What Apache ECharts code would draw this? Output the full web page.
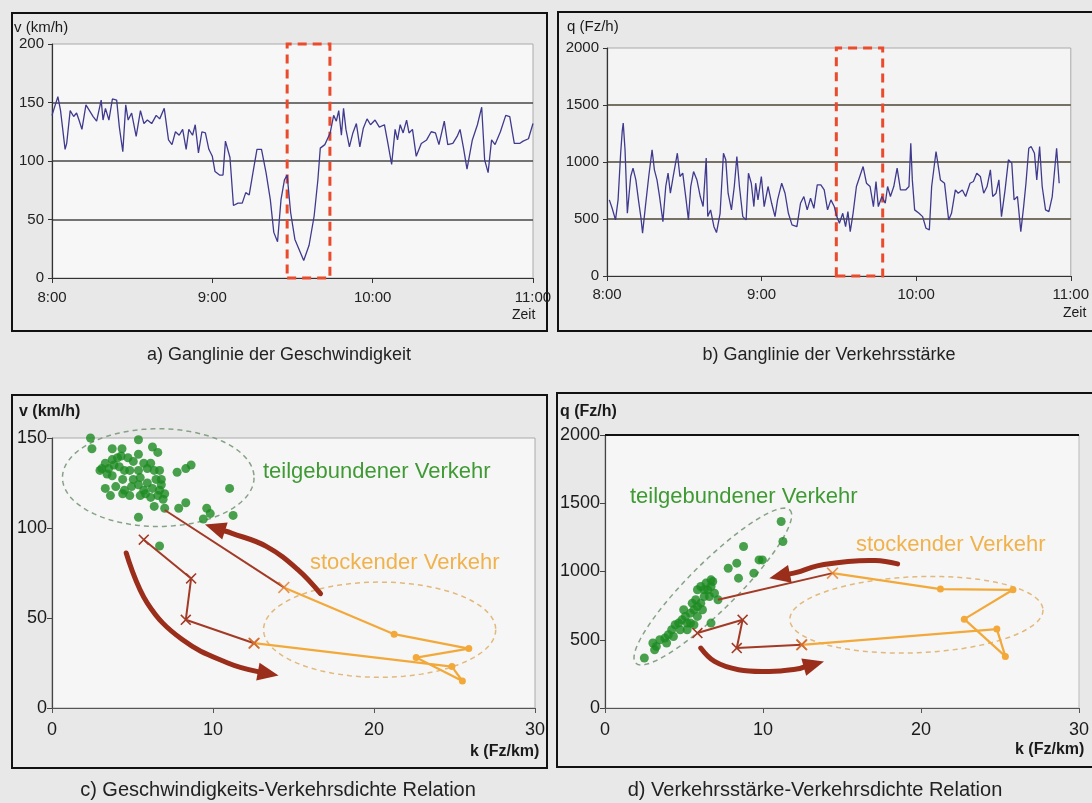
<!DOCTYPE html>
<html>
<head>
<meta charset="utf-8">
<script src="https://cdn.jsdelivr.net/npm/echarts@6/dist/echarts.min.js"></script>
<style>
html,body{margin:0;padding:0;background:#e8e8e8;}
#chart{width:1092px;height:803px;}
</style>
</head>
<body>
<div id="chart"></div>
<script>
// ---- time axis (minutes after 8:00) ----
const timeTicks = ['8:00', '9:00', '10:00', '11:00'];

// a) speed over time [minute, km/h]
const speedSeries = [
  [0,139],[2.2,155],[3.2,143],[4.9,110],[5.5,115],[6.8,143],[8.1,138],[9.2,141],[10.1,135],[11.2,127],
  [12.7,148],[15.4,138],[16.7,134],[18.4,152],[19.1,135],[20.0,145],[21.3,135],[22.6,153],[24.2,152],[25.2,129],
  [26.5,108],[27.6,148],[28.5,135],[29.8,141],[31.5,121],[33.1,143],[34.4,132],[35.7,135],[37.3,132],[39.0,139],
  [40.3,136],[42.0,145],[43.6,118],[44.9,114],[46.2,125],[47.6,122],[48.9,127],[50.2,110],[51.2,127],[52.6,122],
  [53.6,131],[54.8,107],[56.1,125],[57.4,124],[58.7,110],[60.0,104],[61.0,91],[62.7,88],[64.0,88],[64.9,117],
  [66.6,103],[67.9,62],[69.6,64],[71.2,64],[72.5,73],[73.8,71],[75.2,90],[76.7,110],[78.4,110],[80.1,90],
  [81.7,67],[83.0,39],[84.4,31],[85.7,67],[87.0,84],[88.0,88],[89.3,56],[90.9,33],[94.2,15],[96.2,28],
  [98.1,53],[99.5,84],[100.4,111],[102.1,114],[104.1,124],[105.4,139],[106.4,134],[107.3,143],[108.3,122],[109.1,145],
  [110.0,127],[111.3,112],[112.6,124],[113.9,132],[115.2,112],[116.5,128],[117.9,136],[119.2,131],[120.9,135],[122.5,129],
  [124.4,131],[125.7,115],[127.1,97],[128.4,127],[129.3,118],[130.3,131],[131.4,124],[132.7,135],[133.6,124],[134.9,127],
  [136.3,104],[138.2,115],[140.2,118],[141.9,125],[143.5,124],[144.8,114],[146.8,134],[148.1,114],[150.0,115],[151.6,121],
  [152.7,127],[154.0,111],[155.3,93],[157.3,118],[159.2,131],[160.8,146],[161.9,101],[163.2,90],[164.5,118],[165.8,114],
  [167.8,125],[169.8,139],[171.3,138],[173.0,115],[175.0,115],[176.3,117],[178.3,119],[180.0,132]
];

// b) traffic flow over time [minute, Fz/h]
const flowSeries = [
  [0.9,668],[2.0,594],[3.3,492],[4.3,668],[5.3,1077],[5.9,1268],[6.3,1341],[7.0,1107],[7.9,550],[9.2,873],
  [10.1,946],[11.2,843],[12.2,668],[13.2,507],[13.8,375],[14.9,609],[16.2,873],[17.5,1107],[18.4,931],[19.4,843],
  [20.4,697],[21.7,477],[22.8,785],[23.7,902],[24.6,726],[25.7,873],[27.3,1077],[28.3,873],[29.4,902],[30.7,668],
  [31.6,492],[32.5,785],[33.6,916],[34.9,843],[36.2,697],[37.3,609],[38.5,1034],[39.1,521],[40.2,580],[41.5,433],
  [42.5,381],[43.9,550],[45.2,1077],[46.1,1019],[47.0,726],[48.3,580],[49.4,785],[50.4,1048],[51.4,785],[52.7,521],
  [54.0,492],[54.9,902],[56.0,814],[57.0,609],[57.7,814],[58.6,668],[59.9,873],[61.0,609],[62.5,785],[63.9,638],
  [65.2,521],[66.2,668],[67.8,814],[69.1,726],[70.4,550],[71.8,448],[73.7,433],[75.1,638],[76.4,697],[77.7,580],
  [79.0,682],[80.3,594],[81.6,800],[83.0,800],[84.3,755],[85.6,580],[86.9,668],[88.2,609],[89.2,521],[90.2,463],
  [91.5,550],[92.6,433],[93.5,565],[94.4,389],[95.5,550],[96.8,785],[98.1,873],[99.4,960],[100.7,814],[102.1,785],
  [103.4,609],[104.4,829],[105.3,609],[106.7,697],[108.0,638],[108.9,785],[110.0,697],[111.3,785],[112.6,946],[113.9,755],
  [115.9,755],[117.2,785],[117.9,1165],[118.5,843],[119.4,580],[121.1,550],[122.5,521],[123.8,419],[125.1,404],[126.0,785],
  [127.7,1092],[128.4,990],[129.4,843],[131.0,814],[132.6,492],[133.7,550],[135.2,755],[136.3,726],[137.9,755],[139.2,697],
  [140.9,814],[142.2,829],[143.5,902],[144.9,873],[146.2,726],[147.5,785],[148.8,931],[149.7,697],[151.0,726],[152.1,843],
  [153.1,521],[154.5,755],[155.8,1019],[157.1,990],[158.0,668],[159.3,697],[160.6,389],[161.7,609],[162.6,814],[163.7,1121],
  [164.6,1136],[165.9,1077],[166.8,843],[167.9,1136],[168.9,785],[170.2,580],[171.5,565],[172.8,697],[174.5,1121],[175.5,814]
];

// highlighted congestion window [from minute, to minute]
const speedWindow = [88, 104];
const flowWindow = [89, 107];

// c) speed vs. density [k (Fz/km), v (km/h)]
const svFree = [
  [2.39,150],[2.48,144],[5.37,149],[3.74,144],[4.35,144],[6.24,145],[6.57,142],[4.29,140],[3.31,136],[3.74,138],
  [4.07,139],[4.72,139],[5.05,137],[5.37,141],[5.70,136],[6.13,136],[3.09,133],[3.52,133],[3.85,135],[4.18,134],
  [4.50,132],[4.83,132],[5.37,132],[5.92,133],[6.35,132],[6.68,132],[2.98,132],[3.42,130],[3.74,129],[4.39,127],
  [5.05,127],[5.48,128],[5.92,125],[6.46,127],[6.79,127],[3.31,122],[3.96,123],[4.50,121],[4.94,123],[5.37,124],
  [5.70,121],[6.24,122],[6.68,121],[6.79,124],[4.83,118],[5.48,118],[5.81,119],[6.57,118],[6.90,116],[6.35,112],
  [7.00,111],[7.87,111],[8.31,114],[7.77,131],[8.31,133],[8.64,135],[11.03,122],[9.61,111],[9.83,108],[9.40,105],
  [11.25,107],[5.37,106],[6.68,90],[3.63,118],[4.39,119],[6.13,117],[7.00,119]
];
const svLink = [[7.0,110],[14.4,67]];
const svJam = [[14.4,67],[21.25,41],[25.89,33],[22.62,28],[25.49,15],[24.84,23],[12.55,36]];
const svRecover = [[12.55,36],[8.31,49],[8.64,72],[5.70,93.5]];
const svArrows = [
  [[16.68,63.5],[15.27,76.9],[13.31,89.8],[11.14,97.2],[9.5,101.9]],
  [[4.61,86.1],[5.92,58.3],[8.09,38],[10.92,25],[12.66,20.4],[14.07,18.0]]
];
// zone outlines: [k1, y1, k2, y2, minor/major ratio]
const svZones = [[0.65,128,12.55,128,0.51],[13.14,43.5,27.56,43.5,0.41]];

// d) flow vs. density [k (Fz/km), q (Fz/h)]
const qkFree = [
  [2.49,366],[3.03,476],[3.25,451],[3.47,500],[3.79,512],[4.01,537],[4.22,573],[4.44,610],[4.66,622],[4.87,646],
  [5.09,671],[5.20,622],[5.41,695],[5.63,720],[5.52,768],[5.74,793],[5.85,744],[6.06,768],[6.28,817],[6.50,866],
  [6.71,890],[6.93,841],[6.82,927],[6.06,890],[6.39,915],[5.85,866],[6.61,817],[6.17,720],[5.63,610],[5.20,573],
  [4.76,573],[4.33,524],[3.90,476],[3.14,427],[6.71,622],[7.15,793],[7.80,1024],[8.34,1061],[8.45,951],[8.77,1183],
  [9.42,988],[9.75,1085],[9.96,1085],[11.15,1366],[11.26,1220],[5.85,671],[4.98,720],[5.41,622],[6.28,866],[6.71,939]
];
const qkLink = [[7.15,793],[14.4,988]];
const qkJam = [[14.4,988],[21.23,871],[25.82,866],[22.74,651],[25.34,378],[24.8,578],[12.45,463]];
const qkRecover = [[12.45,463],[8.34,439],[8.71,646],[5.85,549]];
const qkArrows = [
  [[18.52,1056],[17.11,1080],[15.38,1073],[13.43,1041],[12.13,993],[10.4,951]],
  [[6.06,439],[6.93,341],[8.45,280],[10.4,268],[12.13,285],[13.86,341]]
];
const qkZones = [[1.95,329,11.7,1451,0.22],[11.7,646,27.72,720,0.30]];

// ---- styling ----
const FONT = 'Liberation Sans, Arial, sans-serif';
const LINE_BLUE = '#3f3a8e';
const WINDOW_RED = '#ea4b2c';
const GREEN = '#1d8b22';
const ORANGE = '#f2a93a';
const BROWN = '#a23a26';
const ARROW_BROWN = '#9a2e1b';
const ZONE_COLORS = ['#86a286', '#e2b97c'];
const CROSS = 'path://M0,1L1,0L5,4L9,0L10,1L6,5L10,9L9,10L5,6L1,10L0,9L4,5Z';
const plain = v => String(v);

function zoneRender(zones) {
  return function (params, api) {
    const z = zones[params.dataIndex];
    const a = api.coord([z[0], z[1]]);
    const b = api.coord([z[2], z[3]]);
    const cx = (a[0] + b[0]) / 2, cy = (a[1] + b[1]) / 2;
    const rx = Math.hypot(b[0] - a[0], b[1] - a[1]) / 2;
    const ry = rx * z[4];
    const ang = Math.atan2(b[1] - a[1], b[0] - a[0]);
    const pts = [];
    for (let i = 0; i < 120; i++) {
      const t = i / 120 * Math.PI * 2;
      const ex = rx * Math.cos(t), ey = ry * Math.sin(t);
      pts.push([cx + ex * Math.cos(ang) - ey * Math.sin(ang), cy + ex * Math.sin(ang) + ey * Math.cos(ang)]);
    }
    return {
      type: 'polygon',
      shape: { points: pts },
      style: { fill: null, stroke: ZONE_COLORS[params.dataIndex], lineWidth: 1.5, lineDash: [5, 4] }
    };
  };
}

function arrowRender(paths) {
  return function (params, api) {
    const pts = paths[params.dataIndex].map(p => api.coord(p));
    const tip = pts[pts.length - 1];
    const prev = pts[pts.length - 2];
    const dx = tip[0] - prev[0], dy = tip[1] - prev[1];
    const len = Math.hypot(dx, dy);
    const ux = dx / len, uy = dy / len;
    const L = 21, W = 9;
    const base = [tip[0] - ux * L, tip[1] - uy * L];
    const shaft = (len < L + 4 ? pts.slice(0, -2) : pts.slice(0, -1)).concat([base]);
    return {
      type: 'group',
      children: [
        { type: 'polyline', shape: { points: shaft, smooth: 0.4 },
          style: { fill: null, stroke: ARROW_BROWN, lineWidth: 5, lineCap: 'round', lineJoin: 'round' } },
        { type: 'polygon',
          shape: { points: [tip, [base[0] + uy * W, base[1] - ux * W], [base[0] - uy * W, base[1] + ux * W]] },
          style: { fill: ARROW_BROWN } }
      ]
    };
  };
}

function timeXAxis(gridIndex, margin) {
  return {
    gridIndex, type: 'value', min: 0, max: 180, interval: 60,
    axisLine: { show: true, lineStyle: { color: '#333', width: 1.2 } },
    axisTick: { show: true, length: 5, lineStyle: { color: '#333' } },
    axisLabel: { formatter: v => timeTicks[Math.round(v / 60)], fontSize: 15, color: '#222', margin },
    splitLine: { show: false }
  };
}
function timeYAxis(gridIndex, max, interval, gridColor) {
  return {
    gridIndex, type: 'value', min: 0, max, interval,
    axisLine: { show: true, lineStyle: { color: '#333', width: 1.2 } },
    axisTick: { show: true, length: 4, lineStyle: { color: '#333' } },
    axisLabel: { formatter: plain, fontSize: 15, color: '#222', margin: 8 },
    splitLine: { show: true, showMinLine: false, showMaxLine: false, lineStyle: { color: gridColor, width: 1.5 } }
  };
}
function relXAxis(gridIndex) {
  return {
    gridIndex, type: 'value', min: 0, max: 30, interval: 10,
    axisLine: { show: true, lineStyle: { color: '#555', width: 1.2 } },
    axisTick: { show: true, length: 5, lineStyle: { color: '#555' } },
    axisLabel: { formatter: plain, fontSize: 18, color: '#1a1a1a', margin: 13 },
    splitLine: { show: false }
  };
}
function relYAxis(gridIndex, max, interval) {
  return {
    gridIndex, type: 'value', min: 0, max, interval,
    axisLine: { show: true, lineStyle: { color: '#444', width: 1.2 } },
    axisTick: { show: true, length: 5, lineStyle: { color: '#444' } },
    axisLabel: { formatter: plain, fontSize: 18, color: '#1a1a1a', margin: 5 },
    splitLine: { show: false }
  };
}

function relationSeries(idx, free, link, jam, recover, arrows, zones, extra) {
  const jamData = jam.map((p, i) => ({ value: p, symbol: (i === 0 || i === jam.length - 1) ? 'none' : 'circle' }));
  return [
    { type: 'custom', xAxisIndex: idx, yAxisIndex: idx, renderItem: zoneRender(zones),
      data: zones.map(z => [z[0], z[1]]), silent: true, z: 1 },
    Object.assign({ type: 'scatter', xAxisIndex: idx, yAxisIndex: idx, data: free, symbolSize: 9,
      itemStyle: { color: GREEN }, silent: true, z: 3 }, extra || {}),
    { type: 'line', xAxisIndex: idx, yAxisIndex: idx, data: link, symbol: 'none',
      lineStyle: { color: BROWN, width: 2 }, silent: true, z: 4 },
    { type: 'line', xAxisIndex: idx, yAxisIndex: idx, data: jamData, symbol: 'circle', symbolSize: 7,
      itemStyle: { color: ORANGE }, lineStyle: { color: ORANGE, width: 2.2 }, silent: true, z: 4 },
    { type: 'line', xAxisIndex: idx, yAxisIndex: idx, data: recover, symbol: CROSS, symbolSize: 11,
      itemStyle: { color: BROWN }, lineStyle: { color: BROWN, width: 2 }, silent: true, z: 4 },
    { type: 'scatter', xAxisIndex: idx, yAxisIndex: idx, data: [jam[0], jam[jam.length - 1]],
      symbol: CROSS, symbolSize: 12, itemStyle: { color: '#e27c30' }, silent: true, z: 5 },
    { type: 'custom', xAxisIndex: idx, yAxisIndex: idx, renderItem: arrowRender(arrows),
      data: arrows.map(a => a[0]), silent: true, z: 6 }
  ];
}

function txt(x, y, text, size, opts) {
  return {
    type: 'text', x, y, silent: true,
    style: Object.assign({ text, fontSize: size, fontFamily: FONT, fill: '#1a1a1a',
      textVerticalAlign: 'middle' }, opts || {})
  };
}
function box(x, y, w, h) {
  return { type: 'rect', shape: { x, y, width: w, height: h }, silent: true, z: 0,
    style: { fill: null, stroke: '#111', lineWidth: 2 } };
}

const chart = echarts.init(document.getElementById('chart'));
chart.setOption({
  animation: false,
  backgroundColor: '#e8e8e8',
  textStyle: { fontFamily: FONT },
  grid: [
    { left: 52, top: 44, width: 481, height: 234, show: true, backgroundColor: '#f7f7f7', borderColor: '#aaa', borderWidth: 1 },
    { left: 607, top: 48, width: 472, height: 228, show: true, backgroundColor: '#f4f4f4', borderColor: '#aaa', borderWidth: 1 },
    { left: 52, top: 438, width: 483, height: 270, show: true, backgroundColor: '#f6f6f6', borderColor: '#aaa', borderWidth: 1 },
    { left: 605, top: 435, width: 479, height: 273, show: true, backgroundColor: '#f6f6f6', borderColor: '#bbb', borderWidth: 1 }
  ],
  xAxis: [timeXAxis(0, 12), timeXAxis(1, 11), relXAxis(2), relXAxis(3)],
  yAxis: [timeYAxis(0, 200, 50, '#474747'), timeYAxis(1, 2000, 500, '#4d4536'), relYAxis(2, 150, 50), relYAxis(3, 2000, 500)],
  series: [
    { type: 'line', xAxisIndex: 0, yAxisIndex: 0, data: speedSeries, symbol: 'none',
      lineStyle: { color: LINE_BLUE, width: 1.3 }, silent: true, z: 3,
      markArea: { silent: true,
        itemStyle: { color: 'rgba(0,0,0,0)', borderColor: WINDOW_RED, borderWidth: 3, borderType: [9, 6] },
        data: [[{ xAxis: speedWindow[0], yAxis: 0 }, { xAxis: speedWindow[1], yAxis: 200 }]] } },
    { type: 'line', xAxisIndex: 1, yAxisIndex: 1, data: flowSeries, symbol: 'none',
      lineStyle: { color: LINE_BLUE, width: 1.3 }, silent: true, z: 3,
      markArea: { silent: true,
        itemStyle: { color: 'rgba(0,0,0,0)', borderColor: WINDOW_RED, borderWidth: 3, borderType: [9, 6] },
        data: [[{ xAxis: flowWindow[0], yAxis: 0 }, { xAxis: flowWindow[1], yAxis: 2000 }]] } },
    ...relationSeries(2, svFree, svLink, svJam, svRecover, svArrows, svZones),
    ...relationSeries(3, qkFree, qkLink, qkJam, qkRecover, qkArrows, qkZones, {
      markLine: { silent: true, symbol: ['none', 'none'], label: { show: false },
        lineStyle: { color: '#111', width: 2, type: 'solid' }, data: [{ yAxis: 2000 }] } })
  ],
  graphic: [
    box(12, 13, 535, 318), box(558, 12, 540, 319), box(12, 395, 535, 373), box(557, 393, 540, 374),
    txt(14, 28, 'v (km/h)', 15),
    txt(512, 315, 'Zeit', 14),
    txt(567, 27, 'q (Fz/h)', 15),
    txt(1063, 313, 'Zeit', 14),
    txt(19, 412, 'v (km/h)', 16, { fontWeight: 'bold' }),
    txt(470, 752, 'k (Fz/km)', 16, { fontWeight: 'bold' }),
    txt(560, 412, 'q (Fz/h)', 16, { fontWeight: 'bold' }),
    txt(1015, 750, 'k (Fz/km)', 16, { fontWeight: 'bold' }),
    txt(263, 472, 'teilgebundener Verkehr', 22, { fill: '#3f9a34' }),
    txt(310, 563, 'stockender Verkehr', 22, { fill: '#f0b24c' }),
    txt(630, 497, 'teilgebundener Verkehr', 22, { fill: '#3f9a34' }),
    txt(856, 545, 'stockender Verkehr', 22, { fill: '#f0b24c' }),
    txt(279, 355, 'a) Ganglinie der Geschwindigkeit', 18, { textAlign: 'center', fill: '#222' }),
    txt(829, 355, 'b) Ganglinie der Verkehrsstärke', 18, { textAlign: 'center', fill: '#222' }),
    txt(278, 790, 'c) Geschwindigkeits-Verkehrsdichte Relation', 20, { textAlign: 'center', fill: '#222' }),
    txt(815, 790, 'd) Verkehrsstärke-Verkehrsdichte Relation', 20, { textAlign: 'center', fill: '#222' })
  ]
});
</script>
</body>
</html>
